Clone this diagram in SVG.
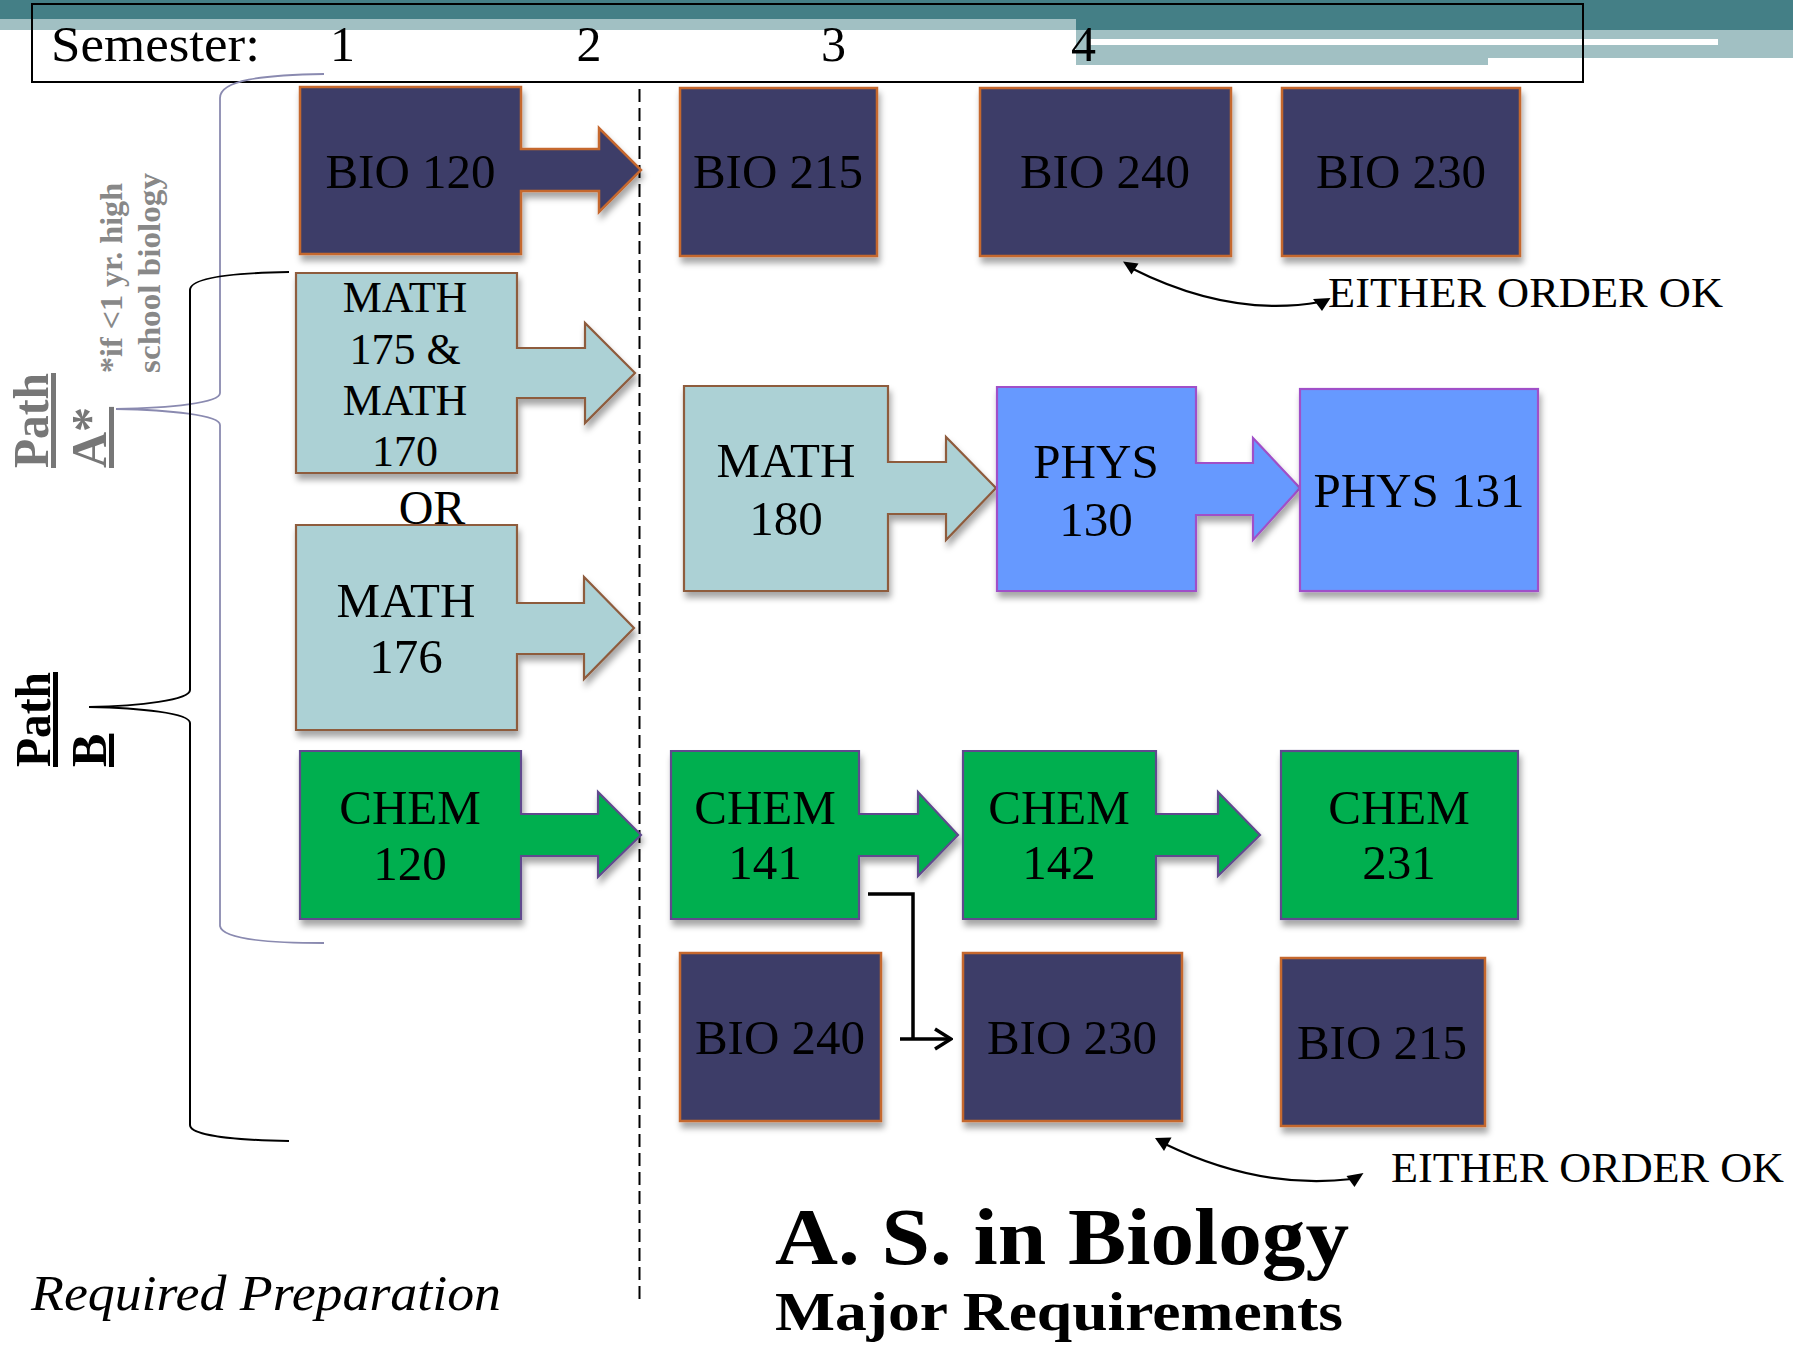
<svg xmlns="http://www.w3.org/2000/svg" width="1793" height="1345" viewBox="0 0 1793 1345">
<style>
text{font-family:"Liberation Serif","DejaVu Serif",serif;fill:#000}
.lbl{font-size:49px;text-anchor:middle}
.bio{fill:#3e3e68;stroke:#c5682f;stroke-width:2.5}
.math{fill:#acd1d5;stroke:#8e5b3d;stroke-width:2.2}
.phys{fill:#6699ff;stroke:#a050c8;stroke-width:2.2}
.chem{fill:#00af50;stroke:#604a8e;stroke-width:2.2}
.sh{filter:url(#shadow)}
.conn{fill:none;stroke:#000;stroke-width:2.2}
.head{fill:#000}
.brace{fill:none}
.either{font-size:42px}
.path{font-size:50px;font-weight:bold;text-decoration:underline}
</style>
<defs>
<filter id="shadow" x="-10%" y="-10%" width="125%" height="130%">
<feDropShadow dx="2" dy="6" stdDeviation="3" flood-color="#000" flood-opacity="0.35"/>
</filter>
<marker id="chev" viewBox="0 0 20 24" refX="18" refY="12" markerWidth="20" markerHeight="24" markerUnits="userSpaceOnUse" orient="auto">
<path d="M2,2 L18,12 L2,22" fill="none" stroke="#000" stroke-width="3.5"/>
</marker>
</defs>
<rect width="1793" height="1345" fill="#fff"/>

<g id="header">
<rect x="0" y="0" width="1076" height="19" fill="#447f86"/>
<rect x="0" y="19" width="1076" height="11" fill="#a1c0c3"/>
<rect x="1076" y="0" width="717" height="30" fill="#447f86"/>
<rect x="1076" y="30" width="412" height="35" fill="#a1c0c3"/>
<rect x="1488" y="30" width="305" height="28" fill="#a1c0c3"/>
<rect x="1090" y="39" width="628" height="6" fill="#fff"/>
<rect x="32" y="4" width="1551" height="78" fill="none" stroke="#000" stroke-width="2"/>
<text x="51" y="61" font-size="50" textLength="209" lengthAdjust="spacingAndGlyphs">Semester:</text>
<text x="342.5" y="61" font-size="50" text-anchor="middle">1</text>
<text x="589" y="61" font-size="50" text-anchor="middle">2</text>
<text x="833.5" y="61" font-size="50" text-anchor="middle">3</text>
<text x="1083.5" y="61" font-size="50" text-anchor="middle">4</text>
</g>

<line id="semester-divider" x1="639.5" y1="89" x2="639.5" y2="1300" stroke="#000" stroke-width="2" stroke-dasharray="13 6"/>

<g id="path-labels">
<text class="path" style="fill:#777" transform="translate(48,468) rotate(-90)" textLength="95" lengthAdjust="spacingAndGlyphs">Path</text>
<text class="path" style="fill:#777" transform="translate(106,468) rotate(-90)">A*</text>
<text style="fill:#888;font-size:32px;font-weight:bold" transform="translate(122,373) rotate(-90)" textLength="190" lengthAdjust="spacingAndGlyphs">*if &lt;1 yr. high</text>
<text style="fill:#888;font-size:32px;font-weight:bold" transform="translate(160,373) rotate(-90)" textLength="200" lengthAdjust="spacingAndGlyphs">school biology</text>
<text class="path" transform="translate(50,767) rotate(-90)" textLength="95" lengthAdjust="spacingAndGlyphs">Path</text>
<text class="path" transform="translate(106,767) rotate(-90)">B</text>
</g>

<g id="braces">
<path class="brace" stroke="#8a8ab0" stroke-width="1.8" d="M324,74 C262,75 220,80 220,98 L220,393 C220,403 170,408 116,409 M116,409 C170,410 220,415 220,425 L220,926 C222,938 262,943 324,943"/>
<path class="brace" stroke="#000" stroke-width="2" d="M289,272 C230,273 190,278 190,290 L190,690 C190,700 140,706 89,707 M89,707 C140,708 190,713 190,723 L190,1125 C190,1135 230,1140 289,1141"/>
</g>

<g id="bio120">
<polygon class="bio sh" points="300,87 521,87 521,149 599,149 599,128 641,170 599,212 599,191 521,191 521,254 300,254"/>
<text class="lbl" x="410.5" y="188">BIO 120</text>
</g>
<g id="bio215-top">
<rect class="bio sh" x="680" y="88" width="197" height="168"/>
<text class="lbl" x="778" y="188">BIO 215</text>
</g>
<g id="bio240-top">
<rect class="bio sh" x="980" y="88" width="251" height="168"/>
<text class="lbl" x="1105" y="188">BIO 240</text>
</g>
<g id="bio230-top">
<rect class="bio sh" x="1282" y="88" width="238" height="168"/>
<text class="lbl" x="1401" y="188">BIO 230</text>
</g>

<g id="math175-170">
<polygon class="math sh" points="296,273 517,273 517,348 585,348 585,323 635,373 585,423 585,398 517,398 517,473 296,473"/>
<text class="lbl" style="font-size:44px" x="405" y="312">MATH</text>
<text class="lbl" style="font-size:44px" x="405" y="364">175 &amp;</text>
<text class="lbl" style="font-size:44px" x="405" y="415">MATH</text>
<text class="lbl" style="font-size:44px" x="405" y="466">170</text>
</g>
<text id="or-label" x="432" y="524" font-size="48" text-anchor="middle">OR</text>
<g id="math176">
<polygon class="math sh" points="296,525 517,525 517,603 584,603 584,577 634,628 584,679 584,654 517,654 517,730 296,730"/>
<text class="lbl" x="406" y="617">MATH</text>
<text class="lbl" x="406" y="673">176</text>
</g>
<g id="chem120">
<polygon class="chem sh" points="300,751 521,751 521,814 598,814 598,792 641,835 598,877 598,856 521,856 521,919 300,919"/>
<text class="lbl" x="410" y="824">CHEM</text>
<text class="lbl" x="410" y="880">120</text>
</g>

<g id="math180">
<polygon class="math sh" points="684,386 888,386 888,462 946,462 946,437 996,488 946,540 946,514 888,514 888,591 684,591"/>
<text class="lbl" x="786" y="477">MATH</text>
<text class="lbl" x="786" y="535">180</text>
</g>
<g id="phys130">
<polygon class="phys sh" points="997,387 1196,387 1196,463 1253,463 1253,438 1300,488 1253,540 1253,515 1196,515 1196,591 997,591"/>
<text class="lbl" x="1096" y="478">PHYS</text>
<text class="lbl" x="1096" y="536">130</text>
</g>
<g id="phys131">
<rect class="phys sh" x="1300" y="389" width="238" height="202"/>
<text class="lbl" x="1419" y="507">PHYS 131</text>
</g>

<g id="chem141">
<polygon class="chem sh" points="671,751 859,751 859,814 918,814 918,792 958,835 918,876 918,856 859,856 859,919 671,919"/>
<text class="lbl" x="765" y="824">CHEM</text>
<text class="lbl" x="765" y="879">141</text>
</g>
<g id="chem142">
<polygon class="chem sh" points="963,751 1156,751 1156,814 1218,814 1218,792 1260,835 1218,876 1218,856 1156,856 1156,919 963,919"/>
<text class="lbl" x="1059" y="824">CHEM</text>
<text class="lbl" x="1059" y="879">142</text>
</g>
<g id="chem231">
<rect class="chem sh" x="1281" y="751" width="237" height="168"/>
<text class="lbl" x="1399" y="824">CHEM</text>
<text class="lbl" x="1399" y="879">231</text>
</g>

<g id="bio240-bottom">
<rect class="bio sh" x="680" y="953" width="201" height="168"/>
<text class="lbl" x="780" y="1054">BIO 240</text>
</g>
<g id="bio230-bottom">
<rect class="bio sh" x="963" y="953" width="219" height="168"/>
<text class="lbl" x="1072" y="1054">BIO 230</text>
</g>
<g id="bio215-bottom">
<rect class="bio sh" x="1281" y="958" width="204" height="168"/>
<text class="lbl" x="1382" y="1059">BIO 215</text>
</g>

<g id="connectors">
<polyline class="conn" style="stroke-width:3.5" points="868,894 913,894 913,1039"/>
<line class="conn" style="stroke-width:3.5" x1="900" y1="1039" x2="951" y2="1039" marker-end="url(#chev)"/>
<path class="conn" d="M1131,268 Q1230,318 1320,302"/>
<polygon class="head" points="1123,261.5 1138.5,263.5 1131.5,274.5"/>
<polygon class="head" points="1313,299 1330.5,298 1322,311"/>
<path class="conn" d="M1165,1144 Q1260,1190 1352,1179"/>
<polygon class="head" points="1155,1138 1171.5,1137.5 1164,1151"/>
<polygon class="head" points="1346.5,1176 1363.5,1173 1354.5,1187"/>
</g>

<text id="either-top" class="either" x="1328" y="307" textLength="395" lengthAdjust="spacingAndGlyphs">EITHER ORDER OK</text>
<text id="either-bottom" class="either" x="1391" y="1182" textLength="393" lengthAdjust="spacingAndGlyphs">EITHER ORDER OK</text>

<g id="titles">
<text x="775" y="1264" font-size="80" font-weight="bold" textLength="574" lengthAdjust="spacingAndGlyphs">A. S. in Biology</text>
<text x="775" y="1330" font-size="54" font-weight="bold" textLength="568" lengthAdjust="spacingAndGlyphs">Major Requirements</text>
<text x="31" y="1310" font-size="50" font-style="italic" textLength="470" lengthAdjust="spacingAndGlyphs">Required Preparation</text>
</g>
</svg>
